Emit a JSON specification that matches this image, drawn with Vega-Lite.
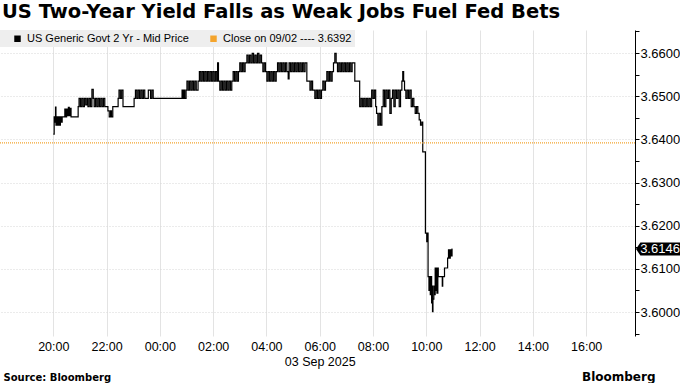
{
"$schema":"https://vega.github.io/schema/vega-lite/v6.json",
"width":635,"height":306,
"autosize":{"type":"none"},
"padding":{"left":0,"top":30,"right":45,"bottom":47},
"background":"white",
"title":{"text":"US Two-Year Yield Falls as Weak Jobs Fuel Fed Bets","anchor":"start","frame":"group","font":"DejaVu Sans","fontSize":19.5,"fontWeight":"bold","color":"#000000","offset":3,"dx":2},
"config":{"view":{"stroke":null}},
"datasets":{"yield":[
{"t":"2025-09-02T20:00","v":3.6412},{"t":"2025-09-02T20:02","v":3.6452},{"t":"2025-09-02T20:04","v":3.6440},{"t":"2025-09-02T20:05","v":3.6475},{"t":"2025-09-02T20:06","v":3.6433},{"t":"2025-09-02T20:08","v":3.6452},{"t":"2025-09-02T20:10","v":3.6433},{"t":"2025-09-02T20:12","v":3.6452},{"t":"2025-09-02T20:14","v":3.6433},{"t":"2025-09-02T20:16","v":3.6452},{"t":"2025-09-02T20:18","v":3.6440},{"t":"2025-09-02T20:20","v":3.6452},{"t":"2025-09-02T20:26","v":3.6470},{"t":"2025-09-02T20:28","v":3.6452},{"t":"2025-09-02T20:30","v":3.6470},{"t":"2025-09-02T20:32","v":3.6455},{"t":"2025-09-02T20:34","v":3.6474},{"t":"2025-09-02T20:36","v":3.6455},{"t":"2025-09-02T20:38","v":3.6472},{"t":"2025-09-02T20:40","v":3.6452},{"t":"2025-09-02T20:56","v":3.6476},{"t":"2025-09-02T20:58","v":3.6495},{"t":"2025-09-02T21:01","v":3.6476},{"t":"2025-09-02T21:04","v":3.6495},{"t":"2025-09-02T21:07","v":3.6476},{"t":"2025-09-02T21:10","v":3.6495},{"t":"2025-09-02T21:13","v":3.6480},{"t":"2025-09-02T21:16","v":3.6495},{"t":"2025-09-02T21:18","v":3.6476},{"t":"2025-09-02T21:21","v":3.6495},{"t":"2025-09-02T21:24","v":3.6476},{"t":"2025-09-02T21:27","v":3.6516},{"t":"2025-09-02T21:30","v":3.6495},{"t":"2025-09-02T21:32","v":3.6476},{"t":"2025-09-02T21:35","v":3.6495},{"t":"2025-09-02T21:38","v":3.6476},{"t":"2025-09-02T21:41","v":3.6495},{"t":"2025-09-02T21:44","v":3.6476},{"t":"2025-09-02T21:47","v":3.6495},{"t":"2025-09-02T21:50","v":3.6476},{"t":"2025-09-02T21:53","v":3.6495},{"t":"2025-09-02T21:56","v":3.6476},{"t":"2025-09-02T22:03","v":3.6466},{"t":"2025-09-02T22:06","v":3.6452},{"t":"2025-09-02T22:09","v":3.6466},{"t":"2025-09-02T22:11","v":3.6452},{"t":"2025-09-02T22:14","v":3.6476},{"t":"2025-09-02T22:26","v":3.6495},{"t":"2025-09-02T22:28","v":3.6514},{"t":"2025-09-02T22:31","v":3.6495},{"t":"2025-09-02T22:34","v":3.6514},{"t":"2025-09-02T22:37","v":3.6476},{"t":"2025-09-02T23:02","v":3.6495},{"t":"2025-09-02T23:05","v":3.6514},{"t":"2025-09-02T23:08","v":3.6495},{"t":"2025-09-02T23:11","v":3.6514},{"t":"2025-09-02T23:14","v":3.6495},{"t":"2025-09-02T23:17","v":3.6514},{"t":"2025-09-02T23:20","v":3.6495},{"t":"2025-09-02T23:23","v":3.6514},{"t":"2025-09-02T23:26","v":3.6495},{"t":"2025-09-02T23:34","v":3.6514},{"t":"2025-09-02T23:39","v":3.6495},{"t":"2025-09-02T23:42","v":3.6514},{"t":"2025-09-02T23:45","v":3.6495},
{"t":"2025-09-03T00:50","v":3.6514},{"t":"2025-09-03T00:52","v":3.6495},{"t":"2025-09-03T00:54","v":3.6514},{"t":"2025-09-03T00:56","v":3.6495},{"t":"2025-09-03T00:59","v":3.6514},{"t":"2025-09-03T01:01","v":3.6535},{"t":"2025-09-03T01:04","v":3.6514},{"t":"2025-09-03T01:07","v":3.6535},{"t":"2025-09-03T01:10","v":3.6514},{"t":"2025-09-03T01:13","v":3.6535},{"t":"2025-09-03T01:16","v":3.6514},{"t":"2025-09-03T01:19","v":3.6535},{"t":"2025-09-03T01:22","v":3.6514},{"t":"2025-09-03T01:26","v":3.6535},{"t":"2025-09-03T01:29","v":3.6557},{"t":"2025-09-03T01:32","v":3.6535},{"t":"2025-09-03T01:35","v":3.6557},{"t":"2025-09-03T01:38","v":3.6535},{"t":"2025-09-03T01:41","v":3.6557},{"t":"2025-09-03T01:44","v":3.6535},{"t":"2025-09-03T01:47","v":3.6557},{"t":"2025-09-03T01:50","v":3.6535},{"t":"2025-09-03T01:53","v":3.6557},{"t":"2025-09-03T01:56","v":3.6535},{"t":"2025-09-03T01:59","v":3.6557},{"t":"2025-09-03T02:02","v":3.6535},{"t":"2025-09-03T02:05","v":3.6557},{"t":"2025-09-03T02:08","v":3.6535},{"t":"2025-09-03T02:10","v":3.6577},{"t":"2025-09-03T02:12","v":3.6535},{"t":"2025-09-03T02:15","v":3.6514},{"t":"2025-09-03T02:18","v":3.6535},{"t":"2025-09-03T02:21","v":3.6514},{"t":"2025-09-03T02:24","v":3.6535},{"t":"2025-09-03T02:27","v":3.6514},{"t":"2025-09-03T02:30","v":3.6535},{"t":"2025-09-03T02:33","v":3.6514},{"t":"2025-09-03T02:36","v":3.6535},{"t":"2025-09-03T02:39","v":3.6514},{"t":"2025-09-03T02:42","v":3.6535},{"t":"2025-09-03T02:45","v":3.6557},{"t":"2025-09-03T02:48","v":3.6535},{"t":"2025-09-03T02:51","v":3.6557},{"t":"2025-09-03T02:54","v":3.6535},{"t":"2025-09-03T02:57","v":3.6557},{"t":"2025-09-03T03:00","v":3.6577},{"t":"2025-09-03T03:03","v":3.6557},{"t":"2025-09-03T03:06","v":3.6577},{"t":"2025-09-03T03:09","v":3.6557},{"t":"2025-09-03T03:12","v":3.6577},{"t":"2025-09-03T03:16","v":3.6595},{"t":"2025-09-03T03:19","v":3.6577},{"t":"2025-09-03T03:22","v":3.6595},{"t":"2025-09-03T03:25","v":3.6577},{"t":"2025-09-03T03:28","v":3.6599},{"t":"2025-09-03T03:31","v":3.6577},{"t":"2025-09-03T03:34","v":3.6595},{"t":"2025-09-03T03:37","v":3.6577},{"t":"2025-09-03T03:40","v":3.6599},{"t":"2025-09-03T03:43","v":3.6577},{"t":"2025-09-03T03:46","v":3.6595},{"t":"2025-09-03T03:49","v":3.6577},{"t":"2025-09-03T03:52","v":3.6557},{"t":"2025-09-03T03:55","v":3.6577},{"t":"2025-09-03T03:58","v":3.6557},{"t":"2025-09-03T04:01","v":3.6535},{"t":"2025-09-03T04:04","v":3.6557},{"t":"2025-09-03T04:07","v":3.6535},{"t":"2025-09-03T04:10","v":3.6557},{"t":"2025-09-03T04:13","v":3.6535},{"t":"2025-09-03T04:16","v":3.6557},{"t":"2025-09-03T04:19","v":3.6535},{"t":"2025-09-03T04:22","v":3.6557},{"t":"2025-09-03T04:25","v":3.6577},{"t":"2025-09-03T04:28","v":3.6557},{"t":"2025-09-03T04:31","v":3.6577},{"t":"2025-09-03T04:34","v":3.6557},{"t":"2025-09-03T04:37","v":3.6577},{"t":"2025-09-03T04:40","v":3.6557},{"t":"2025-09-03T04:43","v":3.6577},{"t":"2025-09-03T04:46","v":3.6557},{"t":"2025-09-03T04:49","v":3.6540},{"t":"2025-09-03T04:51","v":3.6577},{"t":"2025-09-03T04:54","v":3.6557},{"t":"2025-09-03T04:57","v":3.6577},{"t":"2025-09-03T05:00","v":3.6557},{"t":"2025-09-03T05:03","v":3.6577},{"t":"2025-09-03T05:06","v":3.6557},{"t":"2025-09-03T05:09","v":3.6577},{"t":"2025-09-03T05:12","v":3.6557},{"t":"2025-09-03T05:15","v":3.6577},{"t":"2025-09-03T05:18","v":3.6557},{"t":"2025-09-03T05:21","v":3.6577},{"t":"2025-09-03T05:24","v":3.6557},{"t":"2025-09-03T05:27","v":3.6577},{"t":"2025-09-03T05:31","v":3.6535},{"t":"2025-09-03T05:38","v":3.6514},{"t":"2025-09-03T05:41","v":3.6535},{"t":"2025-09-03T05:44","v":3.6514},{"t":"2025-09-03T05:49","v":3.6495},{"t":"2025-09-03T05:52","v":3.6514},{"t":"2025-09-03T05:55","v":3.6495},{"t":"2025-09-03T05:58","v":3.6514},{"t":"2025-09-03T06:01","v":3.6495},{"t":"2025-09-03T06:04","v":3.6514},{"t":"2025-09-03T06:07","v":3.6535},{"t":"2025-09-03T06:10","v":3.6514},{"t":"2025-09-03T06:13","v":3.6535},{"t":"2025-09-03T06:16","v":3.6557},{"t":"2025-09-03T06:19","v":3.6535},{"t":"2025-09-03T06:22","v":3.6557},{"t":"2025-09-03T06:25","v":3.6535},{"t":"2025-09-03T06:28","v":3.6557},{"t":"2025-09-03T06:31","v":3.6577},{"t":"2025-09-03T06:34","v":3.6599},{"t":"2025-09-03T06:37","v":3.6577},{"t":"2025-09-03T06:40","v":3.6557},{"t":"2025-09-03T06:43","v":3.6577},{"t":"2025-09-03T06:46","v":3.6557},{"t":"2025-09-03T06:49","v":3.6577},{"t":"2025-09-03T06:52","v":3.6557},{"t":"2025-09-03T06:55","v":3.6577},{"t":"2025-09-03T06:58","v":3.6557},{"t":"2025-09-03T07:01","v":3.6577},{"t":"2025-09-03T07:04","v":3.6557},{"t":"2025-09-03T07:07","v":3.6577},{"t":"2025-09-03T07:10","v":3.6557},{"t":"2025-09-03T07:13","v":3.6577},{"t":"2025-09-03T07:19","v":3.6535},{"t":"2025-09-03T07:30","v":3.6476},{"t":"2025-09-03T07:33","v":3.6495},{"t":"2025-09-03T07:36","v":3.6476},{"t":"2025-09-03T07:39","v":3.6495},{"t":"2025-09-03T07:42","v":3.6476},{"t":"2025-09-03T07:45","v":3.6495},{"t":"2025-09-03T07:48","v":3.6476},{"t":"2025-09-03T07:51","v":3.6495},{"t":"2025-09-03T07:54","v":3.6476},{"t":"2025-09-03T07:57","v":3.6514},{"t":"2025-09-03T08:00","v":3.6495},{"t":"2025-09-03T08:03","v":3.6514},{"t":"2025-09-03T08:06","v":3.6476},{"t":"2025-09-03T08:08","v":3.6460},{"t":"2025-09-03T08:11","v":3.6433},{"t":"2025-09-03T08:14","v":3.6460},{"t":"2025-09-03T08:17","v":3.6433},{"t":"2025-09-03T08:20","v":3.6476},{"t":"2025-09-03T08:23","v":3.6514},{"t":"2025-09-03T08:26","v":3.6476},{"t":"2025-09-03T08:29","v":3.6514},{"t":"2025-09-03T08:32","v":3.6495},{"t":"2025-09-03T08:35","v":3.6514},{"t":"2025-09-03T08:38","v":3.6460},{"t":"2025-09-03T08:41","v":3.6495},{"t":"2025-09-03T08:44","v":3.6514},{"t":"2025-09-03T08:47","v":3.6476},{"t":"2025-09-03T08:50","v":3.6514},{"t":"2025-09-03T08:53","v":3.6495},{"t":"2025-09-03T08:56","v":3.6514},{"t":"2025-09-03T08:59","v":3.6476},{"t":"2025-09-03T09:02","v":3.6514},{"t":"2025-09-03T09:05","v":3.6535},{"t":"2025-09-03T09:07","v":3.6557},{"t":"2025-09-03T09:09","v":3.6535},{"t":"2025-09-03T09:11","v":3.6514},{"t":"2025-09-03T09:14","v":3.6495},{"t":"2025-09-03T09:17","v":3.6514},{"t":"2025-09-03T09:20","v":3.6495},{"t":"2025-09-03T09:23","v":3.6514},{"t":"2025-09-03T09:26","v":3.6476},{"t":"2025-09-03T09:29","v":3.6495},{"t":"2025-09-03T09:32","v":3.6476},{"t":"2025-09-03T09:35","v":3.6460},{"t":"2025-09-03T09:38","v":3.6476},{"t":"2025-09-03T09:41","v":3.6460},{"t":"2025-09-03T09:44","v":3.6445},{"t":"2025-09-03T09:47","v":3.6433},{"t":"2025-09-03T09:50","v":3.6440},{"t":"2025-09-03T09:52","v":3.6371},{"t":"2025-09-03T09:58","v":3.6183},{"t":"2025-09-03T10:01","v":3.6163},{"t":"2025-09-03T10:03","v":3.6183},{"t":"2025-09-03T10:04","v":3.6082},{"t":"2025-09-03T10:06","v":3.6050},{"t":"2025-09-03T10:07","v":3.6082},{"t":"2025-09-03T10:09","v":3.6040},{"t":"2025-09-03T10:10","v":3.6082},{"t":"2025-09-03T10:12","v":3.6021},{"t":"2025-09-03T10:13","v":3.6060},{"t":"2025-09-03T10:14","v":3.6001},{"t":"2025-09-03T10:15","v":3.6030},{"t":"2025-09-03T10:17","v":3.6060},{"t":"2025-09-03T10:18","v":3.6040},{"t":"2025-09-03T10:20","v":3.6102},{"t":"2025-09-03T10:21","v":3.6050},{"t":"2025-09-03T10:22","v":3.6102},{"t":"2025-09-03T10:24","v":3.6044},{"t":"2025-09-03T10:26","v":3.6102},{"t":"2025-09-03T10:27","v":3.6082},{"t":"2025-09-03T10:36","v":3.6060},{"t":"2025-09-03T10:37","v":3.6082},{"t":"2025-09-03T10:41","v":3.6102},{"t":"2025-09-03T10:48","v":3.6125},{"t":"2025-09-03T10:50","v":3.6144},{"t":"2025-09-03T10:52","v":3.6125},{"t":"2025-09-03T10:54","v":3.6144},{"t":"2025-09-03T10:56","v":3.6130},{"t":"2025-09-03T10:58","v":3.6146},{"t":"2025-09-03T10:59","v":3.6146}
],
"last":[{"t":"2025-09-03T17:50","v":3.6146,"label":"3.6146"}],
"close":[{"t":"2025-09-02T18:00","t2":"2025-09-03T17:50","v":3.6392}]
},
"encoding":{
"x":{"field":"t","type":"temporal",
 "scale":{"domain":[{"year":2025,"month":9,"date":2,"hours":18},{"year":2025,"month":9,"date":3,"hours":17,"minutes":50}],"nice":false},
 "axis":{"values":[{"year":2025,"month":9,"date":2,"hours":20},{"year":2025,"month":9,"date":2,"hours":22},{"year":2025,"month":9,"date":3,"hours":0},{"year":2025,"month":9,"date":3,"hours":2},{"year":2025,"month":9,"date":3,"hours":4},{"year":2025,"month":9,"date":3,"hours":6},{"year":2025,"month":9,"date":3,"hours":8},{"year":2025,"month":9,"date":3,"hours":10},{"year":2025,"month":9,"date":3,"hours":12},{"year":2025,"month":9,"date":3,"hours":14},{"year":2025,"month":9,"date":3,"hours":16}],
  "labelExpr":"hours(datum.value)==6 ? ['06:00','03 Sep 2025'] : timeFormat(datum.value,'%H:%M')",
  "domain":false,"ticks":false,"grid":true,"gridColor":"#e3e3e3","gridWidth":1,
  "labelFont":"Liberation Sans","labelFontSize":12.5,"labelColor":"#000000","labelPadding":4,"labelLineHeight":15,"labelFlush":false,"labelOverlap":false,
  "title":"Source: Bloomberg","titleX":3,"titleY":44,"titleAlign":"left","titleAnchor":"start","titleBaseline":"alphabetic","titleFont":"DejaVu Sans","titleFontWeight":"bold","titleFontSize":10,"titleColor":"#000000"}},
"y":{"field":"v","type":"quantitative",
 "scale":{"domain":[3.59445,3.66533],"nice":false,"zero":false},
 "axis":{"orient":"right","values":[3.595,3.6,3.605,3.61,3.615,3.62,3.625,3.63,3.635,3.64,3.645,3.65,3.655,3.66,3.665],
  "labelExpr":"round(datum.value*1000) % 10 == 0 ? format(datum.value,'.4f') : ''",
  "domain":true,"domainColor":"#000000","domainWidth":1,
  "ticks":true,"tickColor":"#000000","tickSize":4,"tickWidth":1,
  "grid":true,"gridColor":"#d6d6d6","gridDash":[1,2],
  "gridOpacity":{"condition":{"test":"round(datum.value*1000) % 10 != 0","value":0},"value":1},
  "labelFont":"Liberation Sans","labelFontSize":13,"labelColor":"#000000","labelPadding":1,"labelOverlap":false,"labelFlush":false,
  "title":"Bloomberg","titleAngle":0,"titleAlign":"right","titleBaseline":"alphabetic","titleX":20,"titleY":350,"titleFont":"DejaVu Sans","titleFontWeight":"bold","titleFontSize":12,"titleColor":"#000000"}}
},
"layer":[
{"data":{"name":"yield"},
 "mark":{"type":"line","interpolate":"step-after","strokeWidth":1.2},
 "encoding":{
 "color":{"datum":"US Generic Govt 2 Yr - Mid Price","type":"nominal",
  "scale":{"domain":["US Generic Govt 2 Yr - Mid Price","Close on 09/02 ---- 3.6392"],"range":["#000000","#f4a42c"]},
  "legend":{"orient":"none","legendX":0,"legendY":0,"direction":"horizontal","title":null,"symbolType":"square","symbolSize":42,"symbolStrokeWidth":0,"fillColor":"#eeeeee","padding":3,"labelFont":"Liberation Sans","labelFontSize":11,"labelLimit":400,"labelColor":"#000000","symbolOffset":9,"columnPadding":10,"labelOffset":4,
   "encoding":{"symbols":{"fill":{"value":{"expr":"datum.value == 'Close on 09/02 ---- 3.6392' ? '#f4a42c' : '#000000'"}},"strokeWidth":{"value":0},"strokeDash":{"value":[]}}}}}}},
{"data":{"name":"close"},
 "mark":{"type":"rule","strokeDash":[1,1],"strokeWidth":1.2},
 "encoding":{"x2":{"field":"t2"},
  "color":{"datum":"Close on 09/02 ---- 3.6392","type":"nominal"}}},
{"data":{"name":"last"},
 "mark":{"type":"point","filled":true,"opacity":1,"shape":"M-1,0L-0.8,-0.3L1,-0.3L1,0.3L-0.8,0.3Z","size":1936,"color":"#000000","xOffset":23},
 "encoding":{}},
{"data":{"name":"last"},
 "mark":{"type":"text","color":"#ffffff","font":"Liberation Sans","fontSize":13,"align":"center","baseline":"middle","xOffset":25},
 "encoding":{"text":{"field":"label"}}}
]
}
